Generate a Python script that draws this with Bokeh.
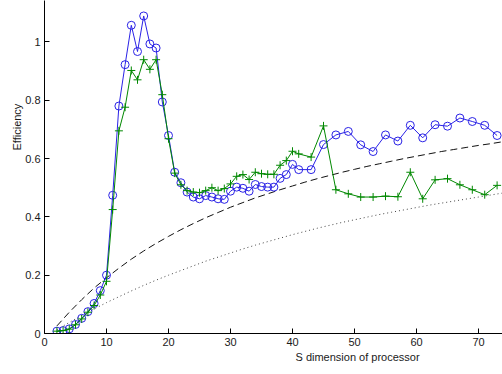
from bokeh.plotting import figure
from bokeh.models import FixedTicker, CustomJSTickFormatter, Title, Range1d
from bokeh.embed import file_html
from bokeh.resources import INLINE

# ---- data ----
proc_x = [2, 3, 4, 5, 6, 7, 8, 9, 10, 11, 12, 13, 14, 15, 16, 17, 18, 19, 20, 21,
          22, 23, 24, 25, 26, 27, 28, 29, 30, 31, 32, 33, 34, 35, 36, 37, 38, 39, 40, 41,
          43, 45, 47, 49, 51, 53, 55, 57, 59, 61, 63, 65, 67, 69, 71, 73]

eff_blue = [0.008, 0.010, 0.016, 0.031, 0.052, 0.075, 0.103, 0.147, 0.200, 0.474,
            0.780, 0.922, 1.057, 0.967, 1.089, 0.993, 0.979, 0.794, 0.679, 0.553,
            0.517, 0.485, 0.468, 0.462, 0.473, 0.468, 0.462, 0.460, 0.488, 0.502,
            0.498, 0.488, 0.511, 0.504, 0.502, 0.502, 0.532, 0.545, 0.580, 0.562,
            0.562, 0.648, 0.681, 0.693, 0.647, 0.624, 0.681, 0.660, 0.714, 0.671,
            0.716, 0.711, 0.739, 0.727, 0.714, 0.679]

eff_green = [0.008, 0.010, 0.015, 0.030, 0.050, 0.073, 0.096, 0.132, 0.179, 0.425,
             0.695, 0.776, 0.902, 0.870, 0.939, 0.906, 0.939, 0.819, 0.668, 0.550,
             0.510, 0.490, 0.485, 0.483, 0.490, 0.500, 0.490, 0.497, 0.513, 0.539,
             0.545, 0.528, 0.553, 0.548, 0.546, 0.546, 0.577, 0.593, 0.625, 0.616,
             0.605, 0.712, 0.493, 0.479, 0.468, 0.468, 0.471, 0.469, 0.553, 0.462,
             0.527, 0.531, 0.510, 0.493, 0.476, 0.508]

curve_x = [2, 4, 6, 8, 10, 12, 14, 16, 18, 20, 22, 24, 26, 28, 30, 32, 34, 36, 38,
           40, 42, 44, 46, 48, 50, 52, 54, 56, 58, 60, 62, 64, 66, 68, 70, 72, 74]

dashed_y = [0.026, 0.073, 0.116, 0.156, 0.191, 0.224, 0.255, 0.283, 0.309, 0.333,
            0.356, 0.377, 0.397, 0.415, 0.433, 0.449, 0.465, 0.479, 0.493, 0.506,
            0.519, 0.531, 0.542, 0.553, 0.563, 0.573, 0.582, 0.591, 0.600, 0.608,
            0.616, 0.624, 0.631, 0.638, 0.645, 0.651, 0.658]

dotted_y = [0.013, 0.038, 0.062, 0.084, 0.106, 0.126, 0.146, 0.165, 0.183, 0.200,
            0.216, 0.232, 0.248, 0.262, 0.276, 0.290, 0.303, 0.315, 0.327, 0.339,
            0.350, 0.361, 0.371, 0.381, 0.390, 0.399, 0.408, 0.416, 0.424, 0.432,
            0.440, 0.447, 0.454, 0.461, 0.468, 0.475, 0.482]

x_ticks = [0, 10, 20, 30, 40, 50, 60, 70]
y_ticks = [0, 0.2, 0.4, 0.6, 0.8, 1]

# ---- figure ----
p = figure(width=502, height=374, output_backend="svg", toolbar_location=None,
           x_range=Range1d(0, 73.87), y_range=Range1d(0, 1.142),
           min_border_left=44, min_border_right=0, min_border_top=0,
           min_border_bottom=41)
p.outline_line_color = None
p.xgrid.visible = False
p.ygrid.visible = False
p.background_fill_color = "white"
p.border_fill_color = "white"

FONT = "Liberation Sans"
for ax in (p.xaxis[0], p.yaxis[0]):
    ax.major_tick_in = 5
    ax.major_tick_out = 0
    ax.minor_tick_in = 0
    ax.minor_tick_out = 0
    ax.axis_line_color = "black"
    ax.major_tick_line_color = "black"
    ax.major_label_text_font = FONT
    ax.major_label_text_font_size = "11px"
    ax.major_label_text_color = "#1a1a1a"
    ax.major_label_standoff = 4
    ax.formatter = CustomJSTickFormatter(code="return String(Math.round(tick*10)/10);")

p.xaxis[0].ticker = FixedTicker(ticks=x_ticks)
p.yaxis[0].ticker = FixedTicker(ticks=y_ticks)

# theoretical curves
p.line(curve_x, dashed_y, line_color="#111111", line_width=1, line_dash="7 4")
p.line(curve_x, dotted_y, line_color="#444444", line_width=1, line_dash="1 3")

# measured series
blue = "#2a22e6"
green = "#008800"
p.line(proc_x, eff_blue, line_color=blue, line_width=1)
p.scatter(proc_x, eff_blue, marker="circle", size=8, fill_color=None,
          line_color=blue, line_width=1)
p.line(proc_x, eff_green, line_color=green, line_width=1)
p.scatter(proc_x, eff_green, marker="cross", size=8, line_color=green, line_width=1)

# axis titles (the original axes are cropped, so the titles sit off-centre)
xt = Title(text="S dimension of processor", align="left", offset=251,
           text_font=FONT, text_font_size="11px", text_font_style="normal",
           text_color="#1a1a1a", standoff=0)
p.add_layout(xt, "below")
yt = Title(text="Efficiency", align="left", offset=183,
           text_font=FONT, text_font_size="11px", text_font_style="normal",
           text_color="#1a1a1a", standoff=0)
p.add_layout(yt, "left")

open("out.html", "w").write(file_html(p, INLINE))
